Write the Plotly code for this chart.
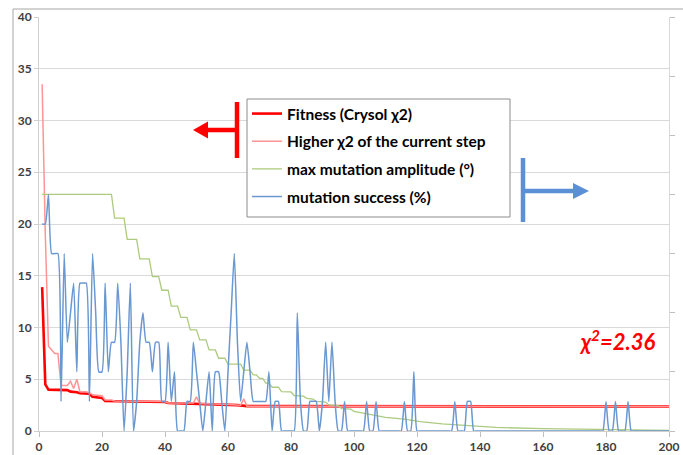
import plotly.graph_objects as go

# ---------------- data ----------------
# Fitness (Crysol chi2), left axis: vertices of the curve (step, value)
fit_step = [1, 2, 3, 8, 9, 10, 12, 13, 16, 17, 20, 21, 40, 41, 48, 60, 63, 66, 120, 200]
fit_val = [13.9, 4.5, 4.0, 3.95, 3.95, 3.8, 3.75, 3.65, 3.6, 3.3, 3.2, 2.9, 2.8, 2.7, 2.65,
           2.55, 2.5, 2.4, 2.38, 2.36]

# Higher chi2 of the current step, left axis
hi_step = [1, 2, 3, 4, 5, 6, 7, 8, 9, 10, 11, 12, 13, 15, 16, 17, 20, 21, 23, 24, 40, 41,
           49, 50, 51, 60, 63, 64, 65, 66, 200]
hi_val = [33.5, 19.0, 8.2, 7.8, 7.5, 7.5, 4.4, 4.4, 4.4, 4.8, 4.1, 5.0, 3.8, 3.8, 3.7, 3.5,
          3.4, 3.0, 3.0, 2.9, 2.85, 2.7, 2.7, 3.3, 2.65, 2.55, 2.5, 2.5, 3.1, 2.4, 2.37]

# max mutation amplitude (deg), right axis
amp_step = [1, 23, 24, 27, 28, 31, 32, 35, 36, 38, 39, 41, 42, 44, 45, 47, 48, 50, 51, 53,
            54, 56, 57, 59, 60, 64, 65, 67, 68, 69, 70, 71, 72, 73, 74, 76, 77, 80, 81, 84,
            85, 87, 88, 91, 92, 95, 96, 99, 100, 105, 110, 116, 121, 128, 137, 145, 160,
            180, 200]
amp_val = [40.0, 40.0, 36.0, 36.0, 32.4, 32.4, 29.1, 29.1, 26.1, 26.1, 23.8, 23.8, 21.1,
           21.1, 19.2, 19.2, 17.1, 17.1, 15.4, 15.4, 13.7, 13.7, 12.3, 12.3, 11.3, 11.3,
           10.3, 10.3, 9.5, 9.5, 8.9, 8.9, 8.1, 8.1, 7.4, 7.4, 6.65, 6.6, 6.0, 5.9, 5.5,
           5.4, 5.0, 4.9, 4.4, 4.3, 3.8, 3.7, 3.3, 2.8, 2.3, 2.0, 1.6, 1.2, 0.85, 0.6, 0.4,
           0.2, 0.1]

# mutation success (%), right axis, one value per step 1..200
success = [
    35, 35, 40, 30, 30, 30, 5, 30, 15, 20, 25, 10, 25, 25, 25, 5, 30, 20, 10, 10,
    25, 10, 15, 15, 25, 15, 0, 10, 25, 0, 5, 15, 20, 15, 15, 10, 15, 15, 5, 5,
    15, 5, 10, 0, 0, 0, 5, 5, 15, 10, 5, 0, 5, 10, 0, 10, 10, 5, 0, 10,
    20, 30, 15, 5, 10, 15, 10, 5, 5, 5, 5, 5, 10, 0, 5, 5, 0, 0, 0, 0,
    0, 20, 5, 0, 0, 5, 5, 5, 0, 5, 15, 5, 15, 5, 0, 0, 5, 0, 0, 0,
    0, 0, 0, 5, 0, 0, 5, 0, 0, 0, 0, 0, 0, 0, 0, 5, 0, 0, 10, 0,
    0, 0, 0, 0, 0, 0, 0, 0, 0, 0, 0, 5, 0, 0, 0, 5, 5, 0, 0, 0,
    0, 0, 0, 0, 0, 0, 0, 0, 0, 0, 0, 0, 0, 0, 0, 0, 0, 0, 0, 0,
    0, 0, 0, 0, 0, 0, 0, 0, 0, 0, 0, 0, 0, 0, 0, 0, 0, 0, 0, 5,
    0, 0, 5, 0, 0, 0, 5, 0, 0, 0, 0, 0, 0, 0, 0, 0, 0, 0, 0, 0,
]
success_step = list(range(1, len(success) + 1))

final_chi2 = "2.36"

# ---------------- layout geometry (pixels) ----------------
W, H = 683, 455
PL, PR, PT, PB = 39, 669, 17, 431   # plot area edges


def fx(p):
    return (p - PL) / (PR - PL)


def fy(p):
    return (PB - p) / (PB - PT)


fig = go.Figure()
fig.add_trace(go.Scatter(x=fit_step, y=fit_val, mode="lines", name="Fitness (Crysol χ2)",
                         legendgroup="a", line=dict(color="#FF0000", width=2.6)))
fig.add_trace(go.Scatter(x=hi_step, y=hi_val, mode="lines", name="Higher χ2 of the current step",
                         legendgroup="b", line=dict(color="#FF9494", width=1.5)))
fig.add_trace(go.Scatter(x=amp_step, y=amp_val, mode="lines", name="max mutation amplitude (°)",
                         legendgroup="c", yaxis="y2", line=dict(color="#ADCB7E", width=1.3)))
fig.add_trace(go.Scatter(x=success_step, y=success, mode="lines", name="mutation success (%)",
                         legendgroup="d", yaxis="y2",
                         line=dict(color="#6A98D0", width=1.5, shape="spline", smoothing=0.5)))

tickfont = dict(family="Lato", size=12, color="#404040", weight="bold")

shapes = [
    # outer chart frame
    dict(type="rect", xref="paper", yref="paper", x0=fx(13), x1=fx(720), y0=fy(480), y1=fy(9),
         line=dict(color="#A6A6A6", width=1), fillcolor="rgba(0,0,0,0)", layer="below"),
    # legend box
    dict(type="rect", xref="paper", yref="paper", x0=fx(247), x1=fx(510), y0=fy(217), y1=fy(99),
         line=dict(color="#8C8C8C", width=1), fillcolor="white", layer="above"),
    # red arrow (left axis)
    dict(type="line", xref="paper", yref="paper", x0=fx(237), x1=fx(237), y0=fy(102), y1=fy(158),
         line=dict(color="#FF0000", width=4.5)),
    dict(type="line", xref="paper", yref="paper", x0=fx(237), x1=fx(204), y0=fy(130), y1=fy(130),
         line=dict(color="#FF0000", width=4.5)),
    dict(type="path", xref="paper", yref="paper",
         path=f"M {fx(193)} {fy(130)} L {fx(208)} {fy(121.5)} L {fx(208)} {fy(138.5)} Z",
         fillcolor="#FF0000", line=dict(color="#FF0000", width=0)),
    # blue arrow (right axis)
    dict(type="line", xref="paper", yref="paper", x0=fx(523), x1=fx(523), y0=fy(158), y1=fy(222),
         line=dict(color="#5B8FD6", width=4.5)),
    dict(type="line", xref="paper", yref="paper", x0=fx(523), x1=fx(575), y0=fy(191), y1=fy(191),
         line=dict(color="#5B8FD6", width=4.5)),
    dict(type="path", xref="paper", yref="paper",
         path=f"M {fx(589)} {fy(191)} L {fx(573)} {fy(183)} L {fx(573)} {fy(199)} Z",
         fillcolor="#5B8FD6", line=dict(color="#5B8FD6", width=0)),
]

annotations = [
    dict(xref="paper", yref="paper", x=fx(658), y=fy(340), xanchor="right", yanchor="middle",
         text=f"<b><i>χ<sup>2</sup>={final_chi2}</i></b>", showarrow=False,
         font=dict(family="Lato", size=22, color="#FF0000")),
]

fig.update_layout(
    width=W, height=H,
    margin=dict(l=PL, r=W - PR, t=PT, b=H - PB, autoexpand=False),
    paper_bgcolor="white", plot_bgcolor="white",
    showlegend=True,
    legend=dict(x=fx(247), y=fy(97), xanchor="left", yanchor="top",
                bgcolor="rgba(0,0,0,0)", borderwidth=0,
                font=dict(family="Lato", size=15.5, color="#000000", weight="bold"),
                tracegroupgap=4.5, itemclick=False),
    xaxis=dict(range=[0, 200], dtick=20, showgrid=False, zeroline=False,
               showline=True, linecolor="#D0D0D0", linewidth=1,
               ticks="outside", ticklen=5, tickcolor="#BFBFBF",
               tickfont=tickfont, automargin=False),
    yaxis=dict(range=[0, 40], dtick=5, showgrid=True, gridcolor="#D9D9D9", gridwidth=1.2,
               zeroline=False, showline=True, linecolor="#D0D0D0",
               ticks="outside", ticklen=4, tickcolor="#D0D0D0",
               tickfont=tickfont, automargin=False),
    yaxis2=dict(range=[0, 70], dtick=10, overlaying="y", side="right", showgrid=False,
                zeroline=False, showline=True, linecolor="#D9D9D9",
                ticks="outside", ticklen=5, tickcolor="#BFBFBF",
                showticklabels=False, automargin=False),
    shapes=shapes,
    annotations=annotations,
)

fig.write_html("out.html")
